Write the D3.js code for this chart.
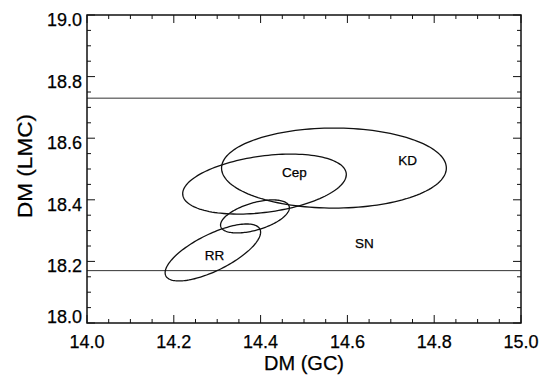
<!DOCTYPE html>
<meta charset="utf-8">
<html>
<head>
<script src="https://d3js.org/d3.v7.min.js"></script>
<style>
  body { margin: 0; background: #fff; }
  text { font-family: "Liberation Sans", Arial, sans-serif; fill: #000; stroke: #000; stroke-width: 0.25px; }
</style>
</head>
<body>
<div id="viz"></div>
<script>
// x / y ticks
const xTicks = [14.0, 14.2, 14.4, 14.6, 14.8, 15.0];
const yTicks = [18.0, 18.2, 18.4, 18.6, 18.8, 19.0];

// horizontal limits (DM LMC)
const hLines = [18.73, 18.17];

// confidence ellipses: centre, half-width, half-height, correlation
const ellNames = ["KD", "Cep", "mid", "RR"];
const ellCx    = [14.569, 14.409, 14.387, 14.290];
const ellCy    = [18.503, 18.451, 18.346, 18.229];
const ellSx    = [0.259, 0.1885, 0.0793, 0.110];
const ellSy    = [0.130, 0.0974, 0.0536, 0.0925];
const ellRho   = [0.0, 0.32, 0.52, 0.71];

// text labels inside the plot (baseline positions)
const labNames = ["KD", "Cep", "RR", "SN"];
const labX     = [14.739, 14.478, 14.294, 14.639];
const labY     = [18.513, 18.474, 18.205, 18.2435];

const w = 544, h = 376;
const margin = {top: 15, right: 23, bottom: 53, left: 87};
const ink = "#111";

const svg = d3.select("#viz").append("svg")
    .attr("width", w)
    .attr("height", h);

const x = d3.scaleLinear().domain([14, 15]).range([margin.left, w - margin.right]);
const y = d3.scaleLinear().domain([18, 19]).range([h - margin.bottom, margin.top]);

const fmt = d3.format(".1f");
const minorX = d3.range(0, 21).map(i => 14 + i * 0.05);
const minorY = d3.range(0, 21).map(i => 18 + i * 0.05);

// ticks, all four sides, pointing inward
function drawTicks(){
    const g = svg.append("g").attr("stroke", ink).attr("stroke-width", 1);
    const isMajor = v => Math.abs(v * 5 - Math.round(v * 5)) < 1e-6;
    minorX.forEach(v => {
        const len = isMajor(v) ? 8 : 4;
        g.append("line").attr("x1", x(v)).attr("x2", x(v))
            .attr("y1", y(18)).attr("y2", y(18) - len);
        g.append("line").attr("x1", x(v)).attr("x2", x(v))
            .attr("y1", y(19)).attr("y2", y(19) + len);
    });
    minorY.forEach(v => {
        const len = isMajor(v) ? 8 : 4;
        g.append("line").attr("y1", y(v)).attr("y2", y(v))
            .attr("x1", x(14)).attr("x2", x(14) + len);
        g.append("line").attr("y1", y(v)).attr("y2", y(v))
            .attr("x1", x(15)).attr("x2", x(15) - len);
    });
}
drawTicks();

// tick labels
svg.append("g").selectAll("text")
    .data(xTicks)
    .join("text")
    .attr("x", d => x(d))
    .attr("y", y(18) + 25)
    .attr("text-anchor", "middle")
    .attr("font-size", 18)
    .text(d => fmt(d));

// bottom label sits on the axis corner, others hang just below their tick
svg.append("g").selectAll("text")
    .data(yTicks)
    .join("text")
    .attr("x", x(14) - 5)
    .attr("y", (d, i) => y(d) + (i === 0 ? 0 : 11))
    .attr("text-anchor", "end")
    .attr("font-size", 18)
    .text(d => fmt(d));

// axis titles
svg.append("text")
    .attr("x", (x(14) + x(15)) / 2)
    .attr("y", h - 6)
    .attr("text-anchor", "middle")
    .attr("font-size", 20)
    .text("DM (GC)");

svg.append("text")
    .attr("transform", `translate(32,${(y(18) + y(19)) / 2 - 3}) rotate(-90)`)
    .attr("text-anchor", "middle")
    .attr("font-size", 20)
    .attr("textLength", 104)
    .attr("lengthAdjust", "spacingAndGlyphs")
    .text("DM (LMC)");

// horizontal limit lines
svg.append("g").selectAll("line")
    .data(hLines)
    .join("line")
    .attr("x1", x(14)).attr("x2", x(15))
    .attr("y1", d => y(d)).attr("y2", d => y(d))
    .attr("stroke", "#333")
    .attr("stroke-width", 1);

// ellipses
const ellipses = ellNames.map((n, i) => ({
    name: n, cx: ellCx[i], cy: ellCy[i], sx: ellSx[i], sy: ellSy[i], rho: ellRho[i]
}));
const steps = d3.range(0, 145).map(k => k / 144 * 2 * Math.PI);
const ellLine = d3.line()
    .x(p => x(p[0]))
    .y(p => y(p[1]))
    .curve(d3.curveLinearClosed);

svg.append("g").selectAll("path")
    .data(ellipses)
    .join("path")
    .attr("d", e => ellLine(steps.map(t => [
        e.cx + e.sx * Math.cos(t),
        e.cy + e.sy * (e.rho * Math.cos(t) + Math.sqrt(1 - e.rho * e.rho) * Math.sin(t))
    ])))
    .attr("fill", "none")
    .attr("stroke", ink)
    .attr("stroke-width", 1.3);

// labels
svg.append("g").selectAll("text")
    .data(labNames)
    .join("text")
    .attr("x", (d, i) => x(labX[i]))
    .attr("y", (d, i) => y(labY[i]))
    .attr("text-anchor", "middle")
    .attr("font-size", 13.5)
    .text(d => d);

// frame
svg.append("rect")
    .attr("x", x(14)).attr("y", y(19))
    .attr("width", x(15) - x(14))
    .attr("height", y(18) - y(19))
    .attr("fill", "none")
    .attr("stroke", ink)
    .attr("stroke-width", 1.5);
</script>
</body>
</html>
